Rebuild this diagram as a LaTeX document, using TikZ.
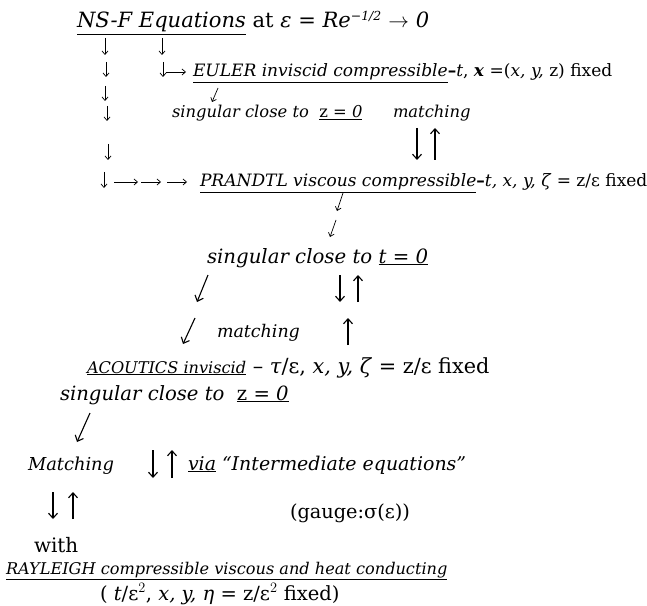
\documentclass[tikz,border=0pt]{standalone}
\usepackage{fontspec}
\setmainfont{DejaVu Serif}
\usetikzlibrary{arrows.meta}
\newcommand{\fsz}[1]{\fontsize{#1}{#1}\selectfont}
\tikzset{
  lbl/.style={anchor=base west, inner sep=0pt, outer sep=0pt},
  arr/.style={line width=0.7bp, -{Straight Barb[length=3.5bp,width=6bp]}},
  bigarr/.style={line width=1.1bp, -{Straight Barb[length=5bp,width=9bp]}}
}
\begin{document}
\begin{tikzpicture}[x=1bp,y=-1bp]
\useasboundingbox (0,0) rectangle (647,606);
% title
\node[lbl] (title) at (77,28) {\fsz{21.1}\underline{\textit{NS-F Equations}} at \textit{ε} = \textit{Re}$^{\textit{\fsz{12.5}−1/2}}$ $\rightarrow$ \textit{0}};
% row 2
\draw[arr] (105,38) -- (105,55);
\draw[arr] (162,38) -- (162,55);
% row 3
\draw[arr] (106,62) -- (106,77);
\draw[arr] (163,62) -- (163,77);
\draw[arr] (166,72) -- (186,72);
\node[lbl] (euler) at (193,77) {\fsz{17.1}\underline{\textit{EULER inviscid compressible}}\textbf{–}\textit{t}, \textbf{\textit{x}} =(\textit{x, y,} z) fixed};
% row 4
\draw[arr] (105,86) -- (105,101);
\draw[arr] (218,88) -- (212,102);
% row 5
\draw[arr] (107,106) -- (107,121);
\node[lbl] (sing1) at (172,118) {\fsz{16.4}\textit{singular close to}\ \ \underline{z = \textit{0}}};
\node[lbl] (match1) at (393,118) {\fsz{16.4}\textit{matching}};
% row 6
\draw[arr] (108,144) -- (108,160);
\draw[bigarr] (417,128) -- (417,160);
\draw[bigarr] (435,160) -- (435,128);
% row 7
\draw[arr] (104,172) -- (104,188);
\draw[arr] (114,182) -- (138,182);
\draw[arr] (141,182) -- (161,182);
\draw[arr] (167,182) -- (187,182);
\node[lbl] (prandtl) at (200,187) {\fsz{17.1}\underline{\textit{PRANDTL viscous compressible}}\textbf{–}\textit{t, x, y, ζ} = z/ε fixed};
% row 8
\draw[arr] (343,193) -- (337,211);
\draw[arr] (336,220) -- (330,237);
% row 9
\node[lbl] (sing2) at (207,263) {\fsz{19.8}\textit{singular close to} \underline{\textit{t} = \textit{0}}};
% row 10
\draw[bigarr] (208,275) -- (197,302);
\draw[bigarr] (340,275) -- (340,302);
\draw[bigarr] (358,302) -- (358,275);
% row 11
\draw[bigarr] (195,318) -- (183,344);
\node[lbl] (match2) at (217,337) {\fsz{17.5}\textit{matching}};
\draw[bigarr] (348,345) -- (348,318);
% row 12
\node[lbl] (acou) at (87,373) {\fsz{16.2}\underline{\textit{ACOUTICS inviscid}}\fsz{20.9} – \textit{τ}/ε, \textit{x, y, ζ} = z/ε fixed};
% row 13
\node[lbl] (sing3) at (60,400) {\fsz{19.7}\textit{singular close to}\ \ \underline{z = \textit{0}}};
% row 14
\draw[bigarr] (90,413) -- (77,442);
% row 15
\node[lbl] (match3) at (28,470) {\fsz{17.9}\textit{Matching}};
\draw[bigarr] (153,450) -- (153,478);
\draw[bigarr] (172,478) -- (172,450);
\node[lbl] (via) at (188,470) {\fsz{19}\underline{\textit{via}} \textit{“Intermediate equations”}};
% row 16
\draw[bigarr] (53,492) -- (53,519);
\draw[bigarr] (73,519) -- (73,492);
\node[lbl] (gauge) at (290,518) {\fsz{19.4}(gauge:σ(ε))};
% row 17
\node[lbl] (with) at (34,552) {\fsz{20}with};
\node[lbl] (ray) at (6,574) {\fsz{16.2}\underline{\textit{RAYLEIGH compressible viscous and heat conducting}}};
\node[lbl] (vars) at (100,600) {\fsz{19.6}( \textit{t}/ε$^{\fsz{12}2}$, \textit{x, y, η} = z/ε$^{\fsz{12}2}$ fixed)};
\end{tikzpicture}
\end{document}
